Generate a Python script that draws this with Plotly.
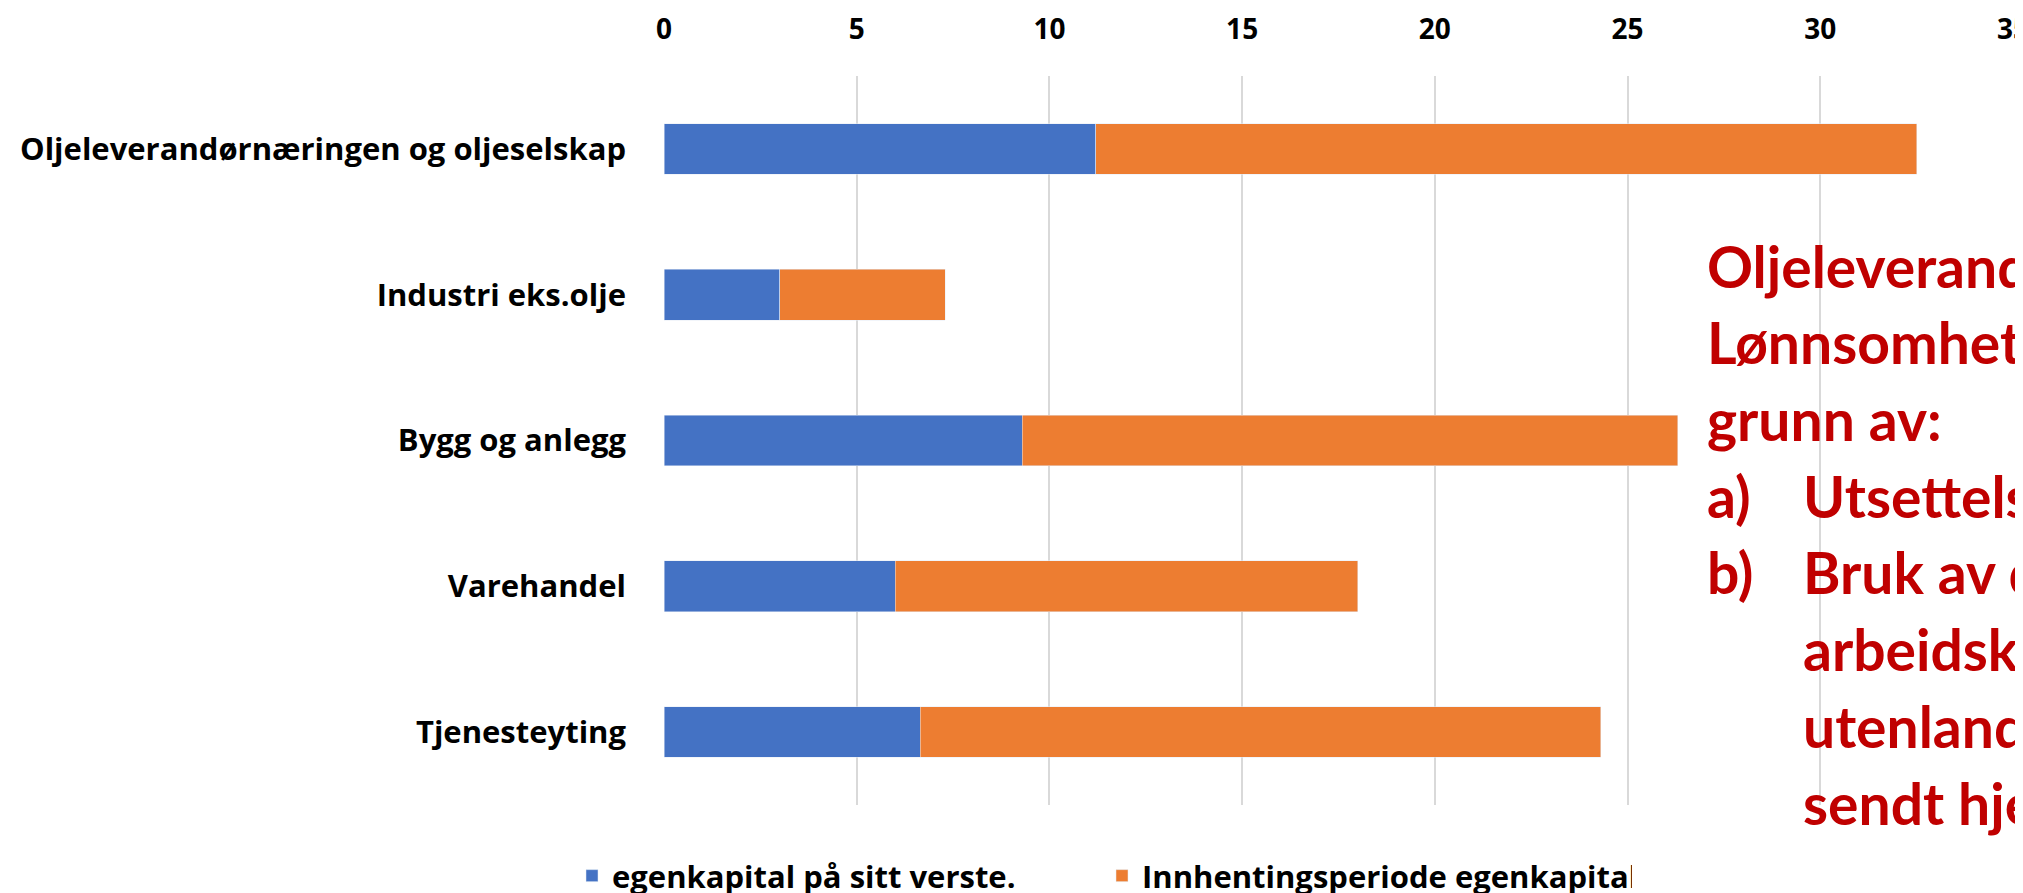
import plotly.graph_objects as go

categories = [
    "Oljeleverandørnæringen og oljeselskap",
    "Industri eks.olje",
    "Bygg og anlegg",
    "Varehandel",
    "Tjenesteyting",
]
egenkapital_verste = [11.2, 3.0, 9.3, 6.0, 6.65]
innhentingsperiode = [21.3, 4.3, 17.0, 12.0, 17.65]
x_ticks = [0, 5, 10, 15, 20, 25, 30, 35]

series_names = ["egenkapital på sitt verste.", "Innhentingsperiode egenkapital"]

note_lines = [
    "Oljeleverandørnæringen:",
    "Lønnsomheten svekket på",
    "grunn av:",
]
note_items = [
    ("a)", "Utsettelse av prosjekter"),
    ("b)", "Bruk av dyr"),
    ("", "arbeidskraft fordi"),
    ("", "utenlandske arbeidere ble"),
    ("", "sendt hjem"),
]

W, H = 2023, 893
ML, MR, MT, MB = 656, 18, 68, 96
PW = W - ML - MR
PH = H - MT - MB

fig = go.Figure()
fig.add_trace(go.Bar(
    y=categories, x=egenkapital_verste, orientation="h",
    name=series_names[0], marker=dict(color="#4472C4"),
))
fig.add_trace(go.Bar(
    y=categories, x=innhentingsperiode, orientation="h",
    name=series_names[1], marker=dict(color="#ED7D31"),
))

chart_font = "Open Sans"
red = "#C00000"
note_font = dict(family="Lato", size=57, color=red, weight="bold")

def px_to_paper_x(px):
    return (px - ML) / PW

def px_to_paper_y(py):
    return (H - MB - py) / PH

annotations = []
line_centers = [258, 334, 411, 488, 564, 641, 718, 795]
all_lines = [("", t) for t in note_lines] + note_items
for i, (lab, txt) in enumerate(all_lines):
    yc = px_to_paper_y(line_centers[i])
    if i < len(note_lines):
        annotations.append(dict(
            x=px_to_paper_x(1697), y=yc, xref="paper", yref="paper",
            text=txt, showarrow=False, xanchor="left", yanchor="middle",
            font=note_font,
        ))
    else:
        if lab:
            annotations.append(dict(
                x=px_to_paper_x(1697), y=yc, xref="paper", yref="paper",
                text=lab, showarrow=False, xanchor="left", yanchor="middle",
                font=note_font,
            ))
        annotations.append(dict(
            x=px_to_paper_x(1793), y=yc, xref="paper", yref="paper",
            text=txt, showarrow=False, xanchor="left", yanchor="middle",
            font=note_font,
        ))

fig.update_layout(
    width=W, height=H,
    barmode="stack",
    bargap=0.652,
    plot_bgcolor="white",
    paper_bgcolor="white",
    margin=dict(l=ML, r=MR, t=MT, b=MB, pad=0, autoexpand=False),
    font=dict(family=chart_font, color="black"),
    xaxis=dict(
        side="top",
        range=[0, 35],
        tickvals=x_ticks,
        ticktext=[str(v) for v in x_ticks],
        showgrid=True, gridcolor="#D9D9D9", gridwidth=2,
        zeroline=False, showline=False, ticks="",
        tickfont=dict(family=chart_font, size=28, color="black", weight="bold"),
        ticklabelstandoff=30,
        automargin=False,
    ),
    yaxis=dict(
        categoryorder="array", categoryarray=categories,
        autorange="reversed",
        showgrid=False, zeroline=False, showline=False, ticks="",
        tickfont=dict(family=chart_font, size=31, color="black", weight="bold"),
        ticklabelstandoff=37,
        automargin=False,
    ),
    legend=dict(
        orientation="h",
        x=px_to_paper_x(564), xanchor="left",
        y=px_to_paper_y(868), yanchor="middle",
        font=dict(family=chart_font, size=31, color="black", weight="bold"),
        entrywidth=485, entrywidthmode="pixels",
        traceorder="normal",
        bgcolor="rgba(0,0,0,0)",
    ),
    annotations=annotations,
    showlegend=True,
)

fig.write_html("out.html")
